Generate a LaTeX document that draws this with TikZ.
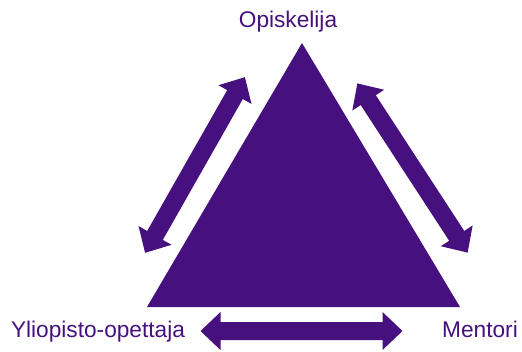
\documentclass[tikz,border=0pt]{standalone}
\usepackage{fontspec}
\setmainfont{Liberation Sans}
\usepackage{xcolor}
\definecolor{purp}{RGB}{70,17,126}

\tikzset{
  label/.style={inner sep=0pt, anchor=base, text=purp, font=\fontsize{17}{20}\selectfont}
}
\newcommand{\dblarrow}{%
  \fill[purp] (-101,0) -- (-81,-19) -- (-81,-9) -- (81,-9) -- (81,-19) -- (101,0)
    -- (81,19) -- (81,9) -- (-81,9) -- (-81,19) -- cycle ;}

\begin{document}
\begin{tikzpicture}[x=0.75pt,y=0.75pt,yscale=-1,xscale=1]
\useasboundingbox (0,0) rectangle (522,351);

%Triangle
\coordinate (top) at (302,43);
\coordinate (bl) at (147,307);
\coordinate (br) at (460,307);
\fill[purp] (top) -- (br) -- (bl) -- cycle ;

%Double arrows
\begin{scope}[shift={(195,165)}, rotate=-60.4] \dblarrow \end{scope}
\begin{scope}[shift={(412.5,168)}, rotate=56.9] \dblarrow \end{scope}
\begin{scope}[shift={(301.5,331)}] \dblarrow \end{scope}

% Text Node
\node (opiskelija) [label] at (288,27) {Opiskelija};
% Text Node
\node (opettaja) [label] at (98,337) {Yliopisto-opettaja};
% Text Node
\node (mentori) [label] at (480,337) {Mentori};

\end{tikzpicture}
\end{document}
